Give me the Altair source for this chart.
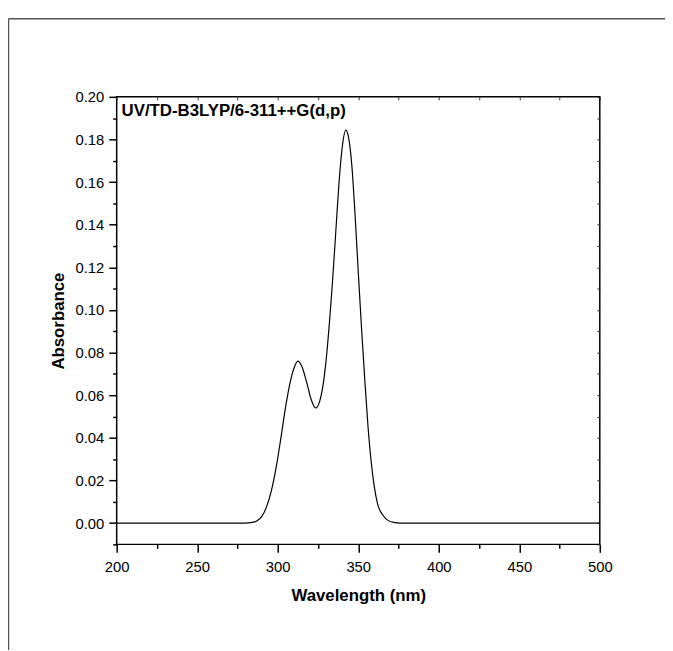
import altair as alt
import pandas as pd

# ---- data ----
wavelength = [200, 250, 270, 280, 284, 287, 290, 293, 296, 299, 302, 305, 308, 310,
              312.6, 315, 318, 321, 323.5, 326, 328, 330, 332, 334, 336, 338, 340,
              342.3, 344, 346, 348, 350, 352, 354, 356, 358, 360, 362, 365, 368,
              372, 376, 380, 400, 450, 500]
absorbance = [0, 0, 0, 0, 0.0003, 0.001, 0.003, 0.0075, 0.015, 0.026, 0.040, 0.055, 0.067, 0.0725,
              0.076, 0.0735, 0.066, 0.0575, 0.054, 0.057, 0.064, 0.076, 0.093, 0.113, 0.136, 0.159, 0.176,
              0.1844, 0.181, 0.168, 0.145, 0.118, 0.092, 0.068, 0.046, 0.029, 0.017, 0.009, 0.004, 0.0015,
              0.0003, 0, 0, 0, 0, 0]

x_major = [200, 250, 300, 350, 400, 450, 500]
x_minor = [225, 275, 325, 375, 425, 475]
x_all = [200, 225, 250, 275, 300, 325, 350, 375, 400, 425, 450, 475, 500]
y_major = [0.00, 0.02, 0.04, 0.06, 0.08, 0.10, 0.12, 0.14, 0.16, 0.18, 0.20]
y_minor = [-0.01, 0.01, 0.03, 0.05, 0.07, 0.09, 0.11, 0.13, 0.15, 0.17, 0.19]
y_all = sorted(y_major + y_minor)

annotation = "UV/TD-B3LYP/6-311++G(d,p)"
x_title = "Wavelength (nm)"
y_title = "Absorbance"

df = pd.DataFrame({"wl": wavelength, "A": absorbance})

FONT = "Liberation Sans"
xs = alt.Scale(domain=[200, 500], nice=False, zero=False)
ys = alt.Scale(domain=[-0.01, 0.20], nice=False, zero=False)

base = alt.Chart(df)

common = dict(domain=False, grid=False, labelFont=FONT, titleFont=FONT,
              labelColor="black", titleColor="black", tickColor="black",
              labelFlush=False, labelOverlap=False)

line = base.mark_line(color="black", strokeWidth=1.2, interpolate="monotone").encode(
    x=alt.X("wl:Q", scale=xs, axis=alt.Axis(
        orient="bottom", values=x_major, format="d", title=x_title,
        tickSize=8, tickWidth=1.5, labelPadding=7, labelFontSize=15,
        titleFontSize=17, titleFontWeight="bold", titlePadding=14, **common)),
    y=alt.Y("A:Q", scale=ys, axis=alt.Axis(
        orient="left", values=y_major, format=".2f", title=y_title,
        tickSize=8, tickWidth=1.5, labelPadding=5, labelFontSize=15,
        titleFontSize=17, titleFontWeight="bold", titlePadding=8, **common)),
)

minor = base.mark_point(opacity=0).encode(
    x=alt.X("wl:Q", scale=xs, axis=alt.Axis(
        orient="bottom", values=x_minor, labels=False, title=None,
        tickSize=4, tickWidth=1.5, domain=False, grid=False, tickColor="black")),
    y=alt.Y("A:Q", scale=ys, axis=alt.Axis(
        orient="left", values=y_minor, labels=False, title=None,
        tickSize=4, tickWidth=1.5, domain=False, grid=False, tickColor="black")),
)

inner = base.mark_point(opacity=0).encode(
    x=alt.X("wl:Q", scale=xs, axis=alt.Axis(
        orient="top", values=x_all, labels=False, title=None, offset=-3,
        tickSize=3, tickWidth=1, domain=False, grid=False, tickColor="#333")),
    y=alt.Y("A:Q", scale=ys, axis=alt.Axis(
        orient="right", values=y_all, labels=False, title=None, offset=-3,
        tickSize=3, tickWidth=1, domain=False, grid=False, tickColor="#333")),
)

note = alt.Chart(pd.DataFrame({"t": [annotation]})).mark_text(
    align="left", baseline="alphabetic", font=FONT, fontSize=17, fontWeight="bold", color="black"
).encode(text="t:N", x=alt.value(5), y=alt.value(19))

frame_df = pd.DataFrame({"k": [0]})
frame_left = alt.Chart(frame_df).mark_rule(color="#555", strokeWidth=1.5).encode(
    x=alt.value(-109.5), y=alt.value(-79), y2=alt.value(560))
frame_top = alt.Chart(frame_df).mark_rule(color="#555", strokeWidth=1.5).encode(
    x=alt.value(-109.5), x2=alt.value(560), y=alt.value(-79))

chart = alt.layer(line, minor, inner, note, frame_left, frame_top).resolve_axis(
    x="independent", y="independent"
).properties(
    width=489, height=453,
    autosize=alt.AutoSizeParams(type="none"),
    padding={"left": 110, "top": 86, "right": 66, "bottom": 104},
    background="white",
).configure_view(stroke="black", strokeWidth=1.5)

chart.save("out.html", embed_options={"renderer": "svg", "actions": False})
